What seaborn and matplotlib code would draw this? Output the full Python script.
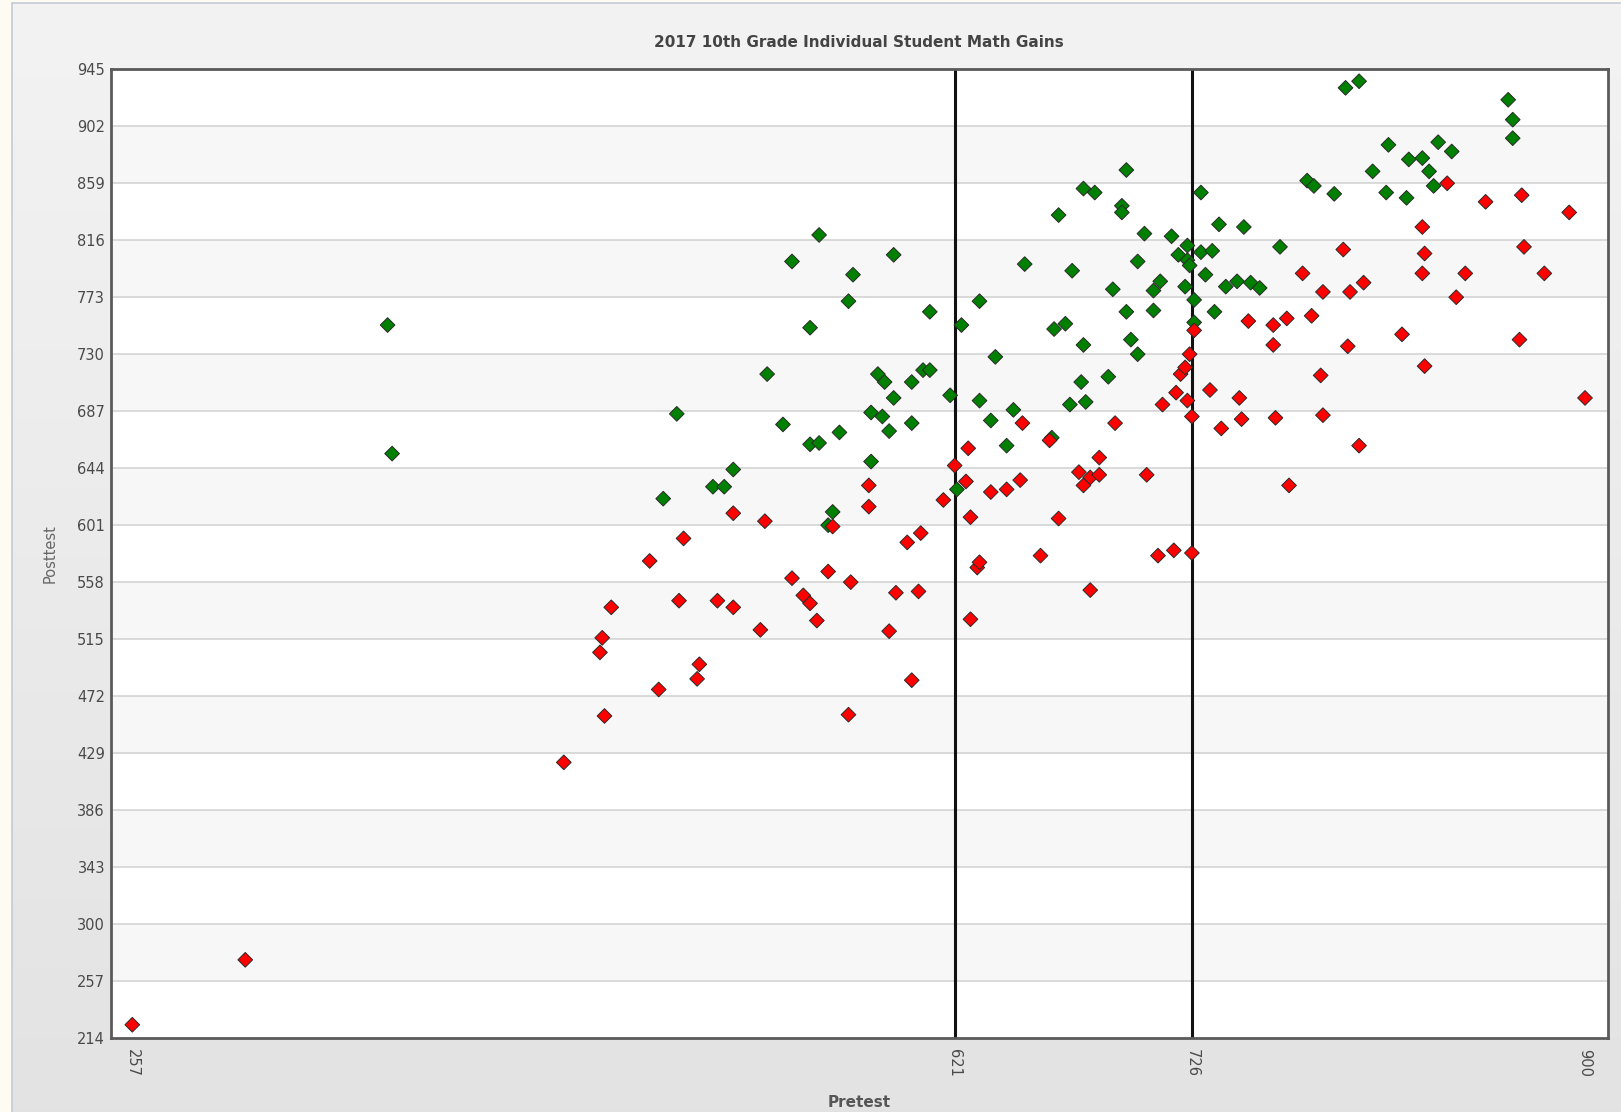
"""2017 10th grade individual student math gains: pretest vs posttest scatter."""
import matplotlib
matplotlib.use('Agg')
import matplotlib.pyplot as plt
import numpy as np
import pandas as pd
import seaborn as sns

# ======================================================================================================================
# Data
# ======================================================================================================================
GREEN_PRE = [370, 372, 498, 492, 514, 519, 523, 538, 545, 549, 557, 557, 561, 561, 570, 574, 576, 594, 587, 590,
             584, 589, 594, 592, 584, 567, 565, 610, 602, 607, 610, 602, 619, 624, 632, 632, 637, 639, 644, 647,
             652, 622, 664, 665, 667, 670, 673, 672, 677, 678, 679, 678, 683, 689, 691, 695, 695, 697, 697, 699,
             702, 702, 705, 709, 709, 712, 717, 720, 724, 723, 724, 725, 727, 727, 730, 730, 732, 735, 736, 738,
             741, 746, 749, 752, 756, 765, 777, 780, 789, 794, 800, 806, 813, 812, 821, 822, 828, 831, 833, 835,
             841, 866, 868, 868]
GREEN_POST = [752, 655, 685, 621, 630, 630, 643, 715, 677, 800, 750, 662, 663, 820, 671, 770, 790, 805, 715, 709,
              686, 683, 697, 672, 649, 611, 601, 762, 709, 718, 718, 678, 699, 752, 770, 695, 680, 728, 661, 688,
              798, 628, 667, 749, 835, 753, 793, 692, 709, 737, 694, 855, 852, 713, 779, 842, 837, 869, 762, 741,
              730, 800, 821, 778, 763, 785, 819, 805, 812, 781, 801, 797, 771, 754, 852, 807, 790, 808, 762, 828,
              781, 785, 826, 784, 780, 811, 861, 857, 851, 931, 936, 868, 888, 852, 848, 877, 878, 868, 857, 890,
              883, 922, 907, 893]
RED_PRE = [257, 307, 448, 464, 465, 466, 469, 486, 490, 499, 501, 507, 508, 516, 523, 523, 535, 537, 549, 554,
           557, 560, 565, 567, 574, 575, 583, 583, 592, 595, 600, 602, 605, 606, 616, 621, 626, 627, 628, 628,
           631, 632, 637, 644, 650, 651, 659, 663, 667, 676, 681, 685, 678, 681, 685, 692, 706, 711, 713, 718,
           719, 721, 723, 724, 725, 727, 726, 726, 734, 739, 747, 748, 751, 762, 762, 763, 768, 769, 775, 779,
           783, 784, 784, 793, 795, 796, 800, 802, 819, 828, 829, 828, 829, 839, 843, 847, 856, 871, 872, 873,
           882, 893, 900]
RED_POST = [224, 273, 422, 505, 516, 457, 539, 574, 477, 544, 591, 485, 496, 544, 539, 610, 522, 604, 561, 548,
            542, 529, 566, 600, 458, 558, 631, 615, 521, 550, 588, 484, 551, 595, 620, 646, 634, 659, 607, 530,
            569, 573, 626, 628, 635, 678, 578, 665, 606, 641, 637, 639, 631, 552, 652, 678, 639, 578, 692, 582,
            701, 715, 720, 695, 730, 748, 683, 580, 703, 674, 697, 681, 755, 752, 737, 682, 757, 631, 791, 759,
            714, 684, 777, 809, 736, 777, 661, 784, 745, 826, 806, 791, 721, 859, 773, 791, 845, 741, 850, 811,
            791, 837, 697]
Y_TICKS = [214, 257, 300, 343, 386, 429, 472, 515, 558, 601, 644, 687, 730, 773, 816, 859, 902, 945]
X_TICKS = [257, 621, 726, 900]
CUT_LINES = [621, 726]

df = pd.concat([
    pd.DataFrame({'Pretest': GREEN_PRE, 'Posttest': GREEN_POST, 'group': 'green'}),
    pd.DataFrame({'Pretest': RED_PRE, 'Posttest': RED_POST, 'group': 'red'}),
], ignore_index=True)

# ======================================================================================================================
# Figure
# ======================================================================================================================
sns.set_theme(style='white')
plt.rcParams['font.family'] = ['DejaVu Sans']
W, H = 1621, 1112
fig = plt.figure(figsize=(W / 100, H / 100), dpi=100)
fig.patch.set_facecolor('#fdfbf2')

# grey gradient panel behind the chart
bg = fig.add_axes([12 / W, 0, 1 - 12 / W, 1 - 3 / H], zorder=-10)
grad = np.linspace(0, 1, 256).reshape(-1, 1)
top, bot = np.array([0.953, 0.953, 0.953]), np.array([0.890, 0.890, 0.890])
bg.imshow(top + (bot - top) * grad[:, :, None], aspect='auto', extent=[0, 1, 0, 1])
bg.set_axis_off()
fig.add_artist(plt.Line2D([12 / W, 12 / W], [0, 1 - 3 / H], color='#c5cad6', lw=1.2))
fig.add_artist(plt.Line2D([12 / W, 1], [1 - 3 / H, 1 - 3 / H], color='#c5cad6', lw=1.2))

ax = fig.add_axes([110.6 / W, 1 - 1038 / H, (1607.6 - 110.6) / W, (1038 - 69.3) / H])
ax.set_facecolor('white')

# alternating horizontal bands and grid lines
for i, (lo, hi) in enumerate(zip(Y_TICKS[:-1], Y_TICKS[1:])):
    if i % 2 == 1:
        ax.axhspan(lo, hi, color='#f7f7f7', zorder=0, lw=0)
for y in Y_TICKS[1:-1]:
    ax.axhline(y, color='#d4d4d4', lw=1.2, zorder=0.5)
for x in CUT_LINES:
    ax.axvline(x, color='#111111', lw=2.2, zorder=1)

sns.scatterplot(data=df, x='Pretest', y='Posttest', hue='group', palette={'green': '#008000', 'red': '#ff0000'},
                marker='D', s=56, edgecolor='#2a2a2a', linewidth=0.7, legend=False, zorder=3, ax=ax)

ax.set_xlim(247.4, 910)
ax.set_ylim(214, 945)
ax.set_xticks(X_TICKS)
ax.set_yticks(Y_TICKS)
ax.tick_params(axis='both', length=0, labelsize=10.5, labelcolor='#4a4a4a')
ax.tick_params(axis='x', rotation=270, pad=8)
ax.tick_params(axis='y', pad=4)
for s in ax.spines.values():
    s.set_color('#5a5a5a')
    s.set_linewidth(2)
    s.set_visible(True)

ax.set_xlabel('Pretest', fontsize=11, fontweight='bold', color='#555555', labelpad=13)
ax.set_ylabel('Posttest', fontsize=10.5, color='#666666', labelpad=14)
ax.set_title('2017 10th Grade Individual Student Math Gains', fontsize=11, fontweight='bold', color='#444444',
             pad=16)

fig.savefig('out.png', dpi=100, facecolor=fig.get_facecolor())
